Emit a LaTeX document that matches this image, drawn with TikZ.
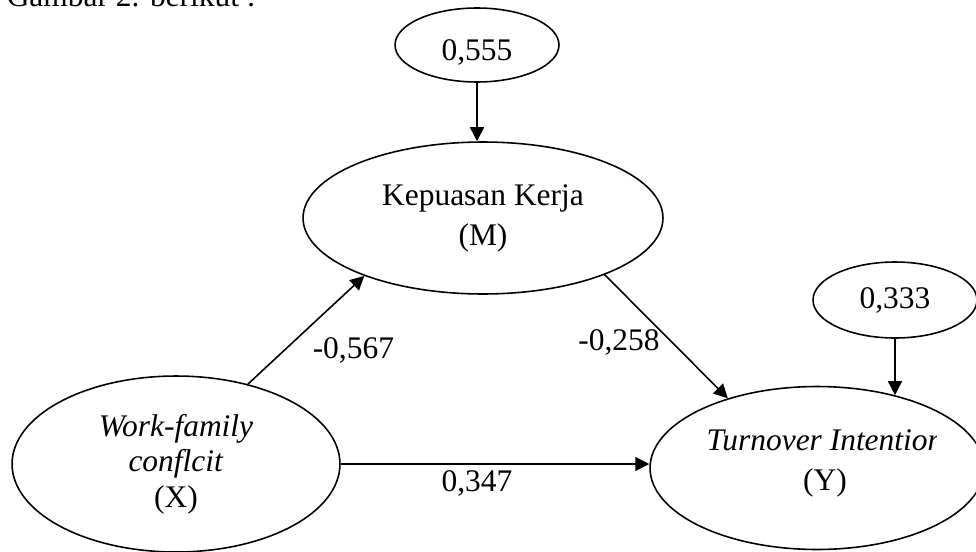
\documentclass[tikz,border=0pt]{standalone}
\usepackage{fontspec}
\setmainfont{Liberation Serif}
\usetikzlibrary{shapes.geometric, arrows.meta, positioning}

\begin{document}
\begin{tikzpicture}[x=0.02cm, y=-0.02cm, line width=0.9pt,
		font=\fontsize{17.9}{22.7}\selectfont,
		var/.style={ellipse, draw, inner sep=0pt, align=center},
		arr/.style={-{Triangle[length=0.28cm, width=0.28cm]}}]
			\useasboundingbox (0,0) rectangle (976,551);
			\clip (0,0) rectangle (976,551);
			% 标题
			\node[anchor=base west, inner sep=0pt] (title) at (6,7) {Gambar 2. berikut :};
			% 绘制变量
			\node[var, minimum width=7.2cm, minimum height=3.04cm] (M) at (483,218) {Kepuasan Kerja\\(M)};
			\node[var, minimum width=6.56cm, minimum height=3.52cm, font=\fontsize{17.9}{20.1}\selectfont] (X) at (176,464) {\textit{Work-family}\\\textit{conflcit}\\(X)};
			\node[var, minimum width=6.68cm, minimum height=3.26cm] (Y) at (817,468) {};
			\begin{scope}
				\clip (650,380) rectangle (936,551);
				\node[align=center] (Ytext) at (825,463) {\textit{Turnover Intention}\\(Y)};
			\end{scope}
			% 误差项
			\node[var, minimum width=3.28cm, minimum height=1.48cm, text height=0.7cm] (eM) at (477,45) {0,555};
			\node[var, minimum width=3.28cm, minimum height=1.52cm] (eY) at (895,300) {0,333};
			% 绘制路径
			\draw[arr] (eM.south) -- (eM.south |- M.north);
			\draw[arr] (eY.south) -- (eY.south |- Y.43);
			\draw[arr] (X.48) -- (M.206) node[midway, right, yshift=-0.4cm] (a) {-0,567};
			\draw[arr] (M.335) -- (Y.142) node[midway, left, yshift=-0.12cm] (b) {-0,258};
			\draw[arr] (X.east) -- (X.east -| Y.west) node[midway, below, xshift=-0.36cm] (c) {0,347};
		\end{tikzpicture}
\end{document}
